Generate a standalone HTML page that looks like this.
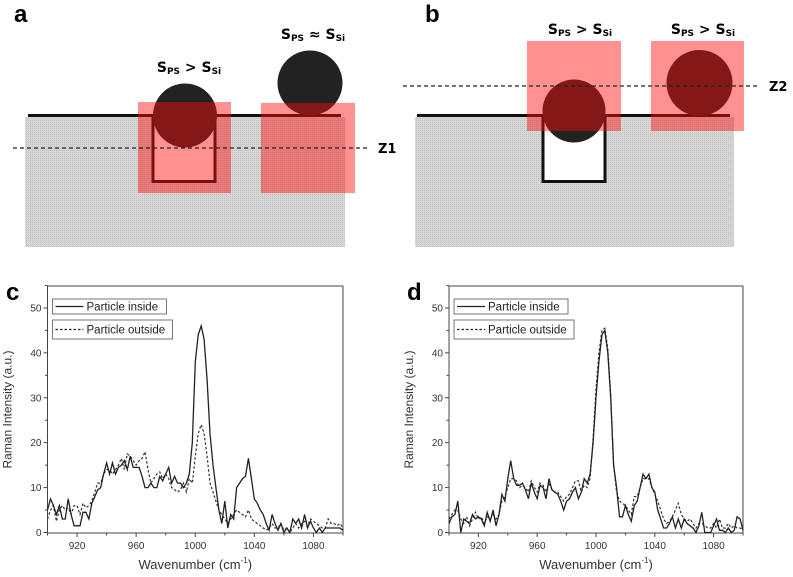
<!DOCTYPE html>
<html><head><meta charset="utf-8">
<style>
body{margin:0;background:#fff;width:793px;height:577px;overflow:hidden;font-family:"Liberation Sans",sans-serif;}
svg{position:absolute;left:0;top:0}
</style></head>
<body>
<svg id="fig" width="793" height="577" viewBox="0 0 793 577">
<defs>
<pattern id="dots" width="2" height="2" patternUnits="userSpaceOnUse"><rect width="2" height="2" fill="#d6d6d6"/><rect width="1" height="1" fill="#c2c2c2"/></pattern>
</defs>
<g>
<text x="14" y="22" font-size="24" font-weight="bold" font-family="Liberation Sans, sans-serif">a</text>
<rect x="25" y="117" width="320" height="130" fill="url(#dots)"/>
<rect x="153" y="116" width="62" height="66" fill="#fff"/>
<path d="M28 115.5 H153 V181.5 H215 V115.5 H341" fill="none" stroke="#111" stroke-width="3"/>
<circle cx="185" cy="115.5" r="32" fill="#222"/>
<circle cx="310" cy="83" r="32.5" fill="#222"/>
<rect x="138" y="102" width="93" height="91" fill="rgba(255,10,10,0.45)"/>
<rect x="261" y="103" width="94" height="90" fill="rgba(255,10,10,0.45)"/>
<line x1="13" y1="148" x2="368" y2="148" stroke="#222" stroke-width="1.2" stroke-dasharray="4,3"/>
<text x="378" y="153" font-size="13" font-weight="bold" font-family="DejaVu Sans, sans-serif">Z1</text>
<text x="189" y="72" text-anchor="middle" font-size="14" font-weight="bold" font-family="DejaVu Sans, sans-serif">S<tspan font-size="9" dy="2">PS</tspan><tspan dy="-2"> &gt; S</tspan><tspan font-size="9" dy="2">Si</tspan></text>
<text x="313" y="39" text-anchor="middle" font-size="14" font-weight="bold" font-family="DejaVu Sans, sans-serif">S<tspan font-size="9" dy="2">PS</tspan><tspan dy="-2"> ≈ S</tspan><tspan font-size="9" dy="2">Si</tspan></text>
</g>
<g>
<text x="425" y="22" font-size="24" font-weight="bold" font-family="Liberation Sans, sans-serif">b</text>
<rect x="415" y="117" width="319" height="130" fill="url(#dots)"/>
<rect x="543" y="116" width="62" height="66" fill="#fff"/>
<path d="M417 115.5 H543 V181.5 H605 V115.5 H730" fill="none" stroke="#111" stroke-width="3"/>
<circle cx="574" cy="111" r="31.5" fill="#222"/>
<circle cx="699.5" cy="83" r="33" fill="#222"/>
<rect x="527" y="41" width="94" height="90" fill="rgba(255,10,10,0.45)"/>
<rect x="651" y="41" width="93" height="90" fill="rgba(255,10,10,0.45)"/>
<line x1="403" y1="86" x2="758" y2="86" stroke="#222" stroke-width="1.2" stroke-dasharray="4,3"/>
<text x="769" y="91" font-size="13" font-weight="bold" font-family="DejaVu Sans, sans-serif">Z2</text>
<text x="580" y="34" text-anchor="middle" font-size="14" font-weight="bold" font-family="DejaVu Sans, sans-serif">S<tspan font-size="9" dy="2">PS</tspan><tspan dy="-2"> &gt; S</tspan><tspan font-size="9" dy="2">Si</tspan></text>
<text x="703" y="34" text-anchor="middle" font-size="14" font-weight="bold" font-family="DejaVu Sans, sans-serif">S<tspan font-size="9" dy="2">PS</tspan><tspan dy="-2"> &gt; S</tspan><tspan font-size="9" dy="2">Si</tspan></text>
</g>
<g id="chartC"></g>
<g id="chartD"></g>
</svg>
<script>
const wavenumbers = [900,902,904,906,908,910,912,914,916,918,920,922,924,926,928,930,932,934,936,938,940,942,944,946,948,950,952,954,956,958,960,962,964,966,968,970,972,974,976,978,980,982,984,986,988,990,992,994,996,998,1000,1002,1004,1006,1008,1010,1012,1014,1016,1018,1020,1022,1024,1026,1028,1030,1032,1034,1036,1038,1040,1042,1044,1046,1048,1050,1052,1054,1056,1058,1060,1062,1064,1066,1068,1070,1072,1074,1076,1078,1080,1082,1084,1086,1088,1090,1092,1094,1096,1098,1100];
const cInside = [5,7.5,6,4,6,3,3,7.5,4,1.5,1.5,1.5,4.5,4.5,3,6.5,8,9.5,10,13,15.5,13,15.5,13,14.5,15,16,14,17,14.5,14.5,14.5,12.5,10,10,11,10,10,12.5,11.5,13,14.5,11,12.5,11,11,10,11,13,20,38,44,46,43,34,22,15,10,5,2,7,1,4,3,10,11,12,12.5,16.5,12,7.5,6.5,5,4,2,0.5,4,2,0.5,2,0,1,0,3,2,3,1,4,1,2.5,1,0,1,0,1,1,1,1,1,1,0.5];
const cOutside = [3,5,6,2.5,5,6,5,5.5,4,6,6,4,6.5,5.5,6,7,9,11,11,13,14,14,13,14,15,16.5,14,17.5,17,16,15,16,16.5,18,14,11,12,13,13.5,12,13,12,10,9.5,9,9.5,11,9,12,11,17,22,24,22,17,11,9,7,5,4,3,2,3,4,5,4.5,4,3.5,5,3,2.5,2,1.5,1,0.5,1,2,1,1,2,0.5,1,0,1,2,1,2,2.5,1.5,3,2.5,2,1.5,1,1,3,2,2,1.5,2,1];
const dInside = [2,3.5,4,7,0,3,2.5,2,4,3,3.5,3,1.5,4.5,2.5,5,1.5,4,8.5,7,12,16,12,10.5,10.5,11,9.5,7.5,11,9,7.5,10.5,10,7.5,12,9.5,9,8.5,7,5,7,7.5,9,10,7.5,9,12,11,13,20,30,38,44,45,40,30,15,10,3.5,3.5,6,4,2.5,6,7,10,13,12,13,10,9,5,3,1,1,2,3.5,1,3,1,3,2,1.5,1,0,1.5,4.5,0,0,0,1.5,3,0.5,0.5,0,1,0,0.5,3.5,3,0.5];
const dOutside = [3,4,5,5,3,2,3.5,1.5,3,4.5,3,3.5,2,3.5,3,4,3,4,7,8,10,12,12,11.5,10,10.5,10,9,11.5,10,9,11,10.5,9,11,9.5,9,9,8,7,8,8.5,10,11.5,11.5,9,10.5,10,12,21,32,40,45,45.5,41,31,15,9,7,6.5,6,5,4,8,8,10,12,12,12,10,8.5,7,5,3,2,2.5,3.5,5,6.5,4,3,2.5,3,2,1,2,2,1.5,1,1,2,1,3,1,1,2,1,1.5,1,1,0.5];
const xTicks = [920,960,1000,1040,1080];
const yTicks = [0,10,20,30,40,50];
const legendLabels = ["Particle inside","Particle outside"];

const NS="http://www.w3.org/2000/svg";
function mk(tag,attrs,parent){const e=document.createElementNS(NS,tag);for(const k in attrs)e.setAttribute(k,attrs[k]);parent.appendChild(e);return e;}

function drawChart(g,left,right,inside,outside){
  const top=286,bottom=533;
  const xScale=v=>left+(v-900)/(1100-900)*(right-left);
  const yScale=v=>bottom-(v-0)/(55-0)*(bottom-top)-0.5;
  const frame=mk('rect',{x:left,y:top,width:right-left,height:bottom-top,fill:'none',stroke:'#444','stroke-width':1},g);
  
  
  for(let v=900;v<=1100;v+=20){
    const major=xTicks.includes(v);
    const t=mk('line',{x1:xScale(v),x2:xScale(v),y1:bottom,y2:bottom+(major?4:2.5),stroke:'#444','stroke-width':1},g);
    
    
  }
  xTicks.forEach(v=>{
    const t=mk('text',{x:xScale(v),y:bottom+16,'text-anchor':'middle','font-size':10,fill:'#333'},g);
    t.textContent=v;
    
    
  });
  for(let v=0;v<=55;v+=5){
    const major=yTicks.includes(v);
    const t=mk('line',{x1:left,x2:left-(major?4:2.5),y1:yScale(v),y2:yScale(v),stroke:'#444','stroke-width':1},g);
    
    
  }
  yTicks.forEach(v=>{
    const t=mk('text',{x:left-6,y:yScale(v)+3.5,'text-anchor':'end','font-size':10,fill:'#333'},g);
    t.textContent=v;
    
    
  });
  const xt=mk('text',{x:(left+right)/2,y:569,'text-anchor':'middle','font-size':13,fill:'#333'},g);
  xt.innerHTML='Wavenumber (cm<tspan font-size="8" dy="-6">-1</tspan><tspan dy="6">)</tspan>';
  
  
  const yx=left-36, yy=(top+bottom)/2;
  const yt=mk('text',{x:yx,y:yy,'text-anchor':'middle','font-size':12,fill:'#333',transform:`rotate(-90 ${yx} ${yy})`},g);
  yt.textContent='Raman Intensity (a.u.)';
  
  
  const pts=arr=>arr.map((v,i)=>xScale(wavenumbers[i]).toFixed(1)+','+yScale(v).toFixed(1)).join(' ');
  const lo=mk('polyline',{points:pts(outside),fill:'none',stroke:'#333','stroke-width':1.2,'stroke-dasharray':'2.5,2'},g);
  
  
  const li=mk('polyline',{points:pts(inside),fill:'none',stroke:'#222','stroke-width':1.3},g);
  
  
  const lx=left+5;
  [[299,15,''],[320,19,'2.5,2']].forEach((b,i)=>{
    const r=mk('rect',{x:lx,y:b[0],width:i?120:114,height:b[1],fill:'#fff',stroke:'#777','stroke-width':1},g);
    
    
    const cy=b[0]+b[1]/2;
    const l=mk('line',{x1:lx+3,x2:lx+31,y1:cy,y2:cy,stroke:'#222','stroke-width':1.3},g);
    if(b[2])l.setAttribute('stroke-dasharray',b[2]);
    
    
    const t=mk('text',{x:lx+34,y:cy+4,'font-size':11.5,fill:'#222'},g);
    t.textContent=legendLabels[i];
    
    
  });
}
drawChart(document.getElementById('chartC'),47.5,343,cInside,cOutside);
drawChart(document.getElementById('chartD'),449,743,dInside,dOutside);
[['c',6,300],['d',407,300]].forEach(p=>{
  const t=mk('text',{x:p[1],y:p[2],'font-size':24,'font-weight':'bold'},document.getElementById('fig'));
  t.textContent=p[0];
  
  
});
</script>
</body></html>
